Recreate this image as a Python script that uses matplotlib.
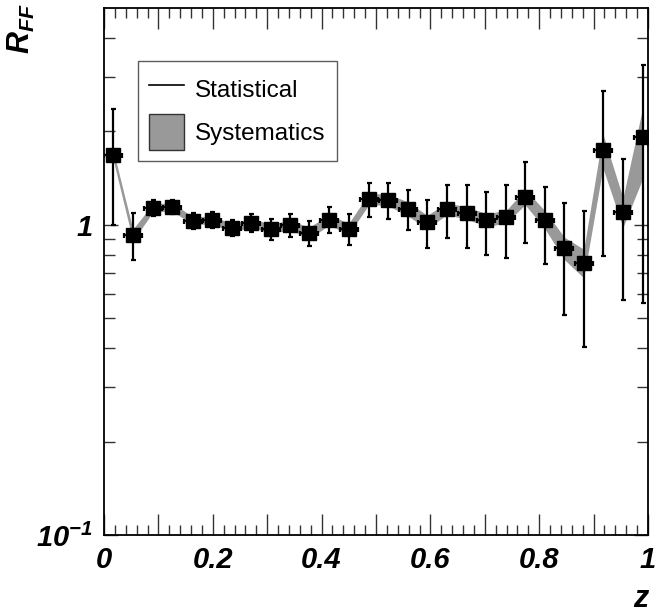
import numpy as np
import matplotlib
matplotlib.use("Agg")
from matplotlib import pyplot as plt
from matplotlib.lines import Line2D
from matplotlib.patches import Patch
from matplotlib.ticker import FixedLocator, FixedFormatter, MultipleLocator, NullFormatter

plt.rcParams["font.family"] = ["Liberation Sans", "DejaVu Sans"]
plt.rcParams["mathtext.fontset"] = "custom"
plt.rcParams["mathtext.it"] = "Liberation Sans:bold:italic"
plt.rcParams["mathtext.rm"] = "Liberation Sans:bold:italic"
plt.rcParams["mathtext.default"] = "it"

# ratio R_FF vs z, with statistical and systematic uncertainties
z = [0.017, 0.053, 0.090, 0.125, 0.164, 0.199, 0.235, 0.270, 0.307, 0.342,
     0.377, 0.414, 0.450, 0.487, 0.522, 0.559, 0.594, 0.630, 0.667, 0.702,
     0.739, 0.774, 0.811, 0.846, 0.882, 0.917, 0.954, 0.991]
r_ff = [1.68, 0.928, 1.134, 1.143, 1.03, 1.038, 0.978, 1.015, 0.971, 1.0,
        0.942, 1.038, 0.971, 1.213, 1.204, 1.126, 1.023, 1.126, 1.093, 1.038,
        1.061, 1.231, 1.038, 0.843, 0.754, 1.746, 1.101, 1.921]
stat_err = [0.68, 0.16, 0.07, 0.06, 0.06, 0.06, 0.06, 0.065, 0.075, 0.085,
            0.087, 0.10, 0.11, 0.15, 0.16, 0.165, 0.18, 0.22, 0.25, 0.24,
            0.28, 0.36, 0.29, 0.33, 0.35, 0.95, 0.53, 1.36]
sys_err = [0.06, 0.04, 0.035, 0.035, 0.03, 0.03, 0.03, 0.03, 0.035, 0.035,
           0.04, 0.04, 0.04, 0.05, 0.05, 0.06, 0.05, 0.05, 0.05, 0.05,
           0.05, 0.07, 0.07, 0.07, 0.08, 0.22, 0.12, 0.5]
z_err = [0.0165] * len(z)

z_a, r_a, s_a = np.array(z), np.array(r_ff), np.array(sys_err)

fig = plt.figure(figsize=(6.57, 6.14), dpi=100)
ax = fig.add_axes([104 / 657, 1 - 535 / 614, 544 / 657, 527 / 614])

band_color = "#999999"
ax.fill_between(z_a, r_a - s_a, r_a + s_a, color=band_color, lw=0, zorder=1)
ax.errorbar(z, r_ff, yerr=stat_err, xerr=z_err, fmt="s", color="k", ms=9.5,
            elinewidth=1.6, capsize=1.8, capthick=1.6, zorder=3)

ax.set_yscale("log")
ax.set_xlim(0, 1)
ax.set_ylim(0.1, 5.0)

# ROOT-like ticks: inward, on all sides
ax.xaxis.set_minor_locator(MultipleLocator(0.02))
ax.set_xticks(np.arange(0, 1.01, 0.1))
ax.set_xticklabels(["0", "", "0.2", "", "0.4", "", "0.6", "", "0.8", "", "1"])
ax.yaxis.set_major_locator(FixedLocator([0.1, 1.0]))
ax.yaxis.set_major_formatter(FixedFormatter([r"$10^{-1}$", "1"]))
ax.yaxis.set_minor_locator(FixedLocator([0.2, 0.3, 0.4, 0.5, 0.6, 0.7, 0.8, 0.9,
                                         2, 3, 4]))
ax.yaxis.set_minor_formatter(NullFormatter())
ax.tick_params(axis="both", which="both", direction="in", top=True, right=True,
               width=1.0, color="#333333")
ax.tick_params(axis="x", which="major", length=15, pad=8)
ax.tick_params(axis="x", which="minor", length=7)
ax.tick_params(axis="y", which="major", length=10, pad=8)
ax.tick_params(axis="y", which="minor", length=8)
for lab in ax.get_xticklabels() + ax.get_yticklabels():
    lab.set_fontsize(21)
    lab.set_fontweight("bold")
    lab.set_fontstyle("italic")
for sp in ax.spines.values():
    sp.set_linewidth(1.3)

fig.text(0.975, 0.025, "z", fontsize=22, fontweight="bold", fontstyle="italic",
         ha="center", va="center")
fig.text(0.033, 0.995, r"$R_{FF}$", fontsize=22, rotation=90, ha="center", va="top")

handles = [Line2D([], [], color="k", lw=1.2, label="Statistical"),
           Patch(facecolor=band_color, edgecolor="#333333", lw=1.0,
                 label="Systematics")]
leg = ax.legend(handles=handles, loc="upper left", bbox_to_anchor=(0.0625, 0.8994),
                borderaxespad=0, fontsize=17.5, frameon=True, fancybox=False,
                edgecolor="#333333", handlelength=1.45, handleheight=1.85,
                borderpad=0.45, labelspacing=0.3, handletextpad=0.45)
leg.get_frame().set_linewidth(1.0)

fig.savefig("out.png", dpi=100)
